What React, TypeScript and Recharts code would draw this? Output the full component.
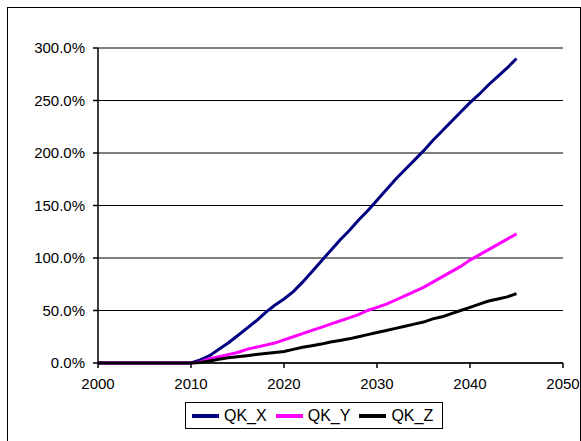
import React from 'react';
import { LineChart, Line, XAxis, YAxis, CartesianGrid, Legend } from 'recharts';

const years: number[] = [
  2000, 2001, 2002, 2003, 2004, 2005, 2006, 2007, 2008, 2009,
  2010, 2011, 2012, 2013, 2014, 2015, 2016, 2017, 2018, 2019,
  2020, 2021, 2022, 2023, 2024, 2025, 2026, 2027, 2028, 2029,
  2030, 2031, 2032, 2033, 2034, 2035, 2036, 2037, 2038, 2039,
  2040, 2041, 2042, 2043, 2044, 2045,
];

const qkX: number[] = [
  0, 0, 0, 0, 0, 0, 0, 0, 0, 0,
  0, 3, 7, 13, 19, 26, 33, 40, 48, 55,
  61, 68, 77, 87, 97, 107, 117, 126, 136, 145,
  155, 165, 175, 184, 193, 202, 212, 221, 230, 239,
  248, 256, 265, 273, 281, 290,
];

const qkY: number[] = [
  0, 0, 0, 0, 0, 0, 0, 0, 0, 0,
  0, 1, 4, 6, 8, 10, 13, 15, 17, 19,
  22, 25, 28, 31, 34, 37, 40, 43, 46, 50,
  53, 56, 60, 64, 68, 72, 77, 82, 87, 92,
  98, 103, 108, 113, 118, 123,
];

const qkZ: number[] = [
  0, 0, 0, 0, 0, 0, 0, 0, 0, 0,
  0, 0.5, 2, 3.5, 5, 6, 7, 8, 9, 10,
  11, 13, 15, 16.5, 18, 20, 21.5, 23, 25, 27,
  29, 31, 33, 35, 37, 39, 42, 44, 47, 50,
  53, 56, 59, 61, 63, 66,
];

const xTicks: number[] = [2000, 2010, 2020, 2030, 2040, 2050];
const yTicks: number[] = [0, 50, 100, 150, 200, 250, 300];

const data = years.map((year, i) => ({
  year,
  QK_X: qkX[i],
  QK_Y: qkY[i],
  QK_Z: qkZ[i],
}));

const FONT = 'Arial, "Liberation Sans", sans-serif';

const LegendContent = (props: any) => {
  const payload = props.payload || [];
  return (
    <div
      style={{
        boxSizing: 'border-box',
        border: '1px solid #000',
        height: 27,
        display: 'flex',
        alignItems: 'center',
        paddingLeft: 6,
        paddingRight: 4,
        fontFamily: FONT,
        fontSize: 16,
        color: '#000',
        background: '#fff',
        whiteSpace: 'nowrap',
      }}
    >
      {payload.map((entry: any, i: number) => (
        <div key={i} style={{ display: 'flex', alignItems: 'center', marginRight: i < payload.length - 1 ? 9 : 0 }}>
          <div style={{ width: 27, height: 4, background: entry.color, marginRight: 5 }} />
          <span>{entry.value}</span>
        </div>
      ))}
    </div>
  );
};

export default function App() {
  return (
    <div style={{ position: 'absolute', left: 0, top: 0, width: 581, height: 441, background: '#fff', overflow: 'hidden' }}>
      <div
        style={{
          position: 'absolute',
          left: 7,
          top: 7,
          width: 574,
          height: 460,
          boxSizing: 'border-box',
          border: '1px solid #000',
        }}
      />
      <div style={{ position: 'absolute', left: 0, top: 0 }}>
        <LineChart
          width={581}
          height={441}
          data={data}
          margin={{ top: 48, right: 18, bottom: 48, left: 8 }}
        >
          <CartesianGrid horizontal={true} vertical={false} stroke="#000" strokeWidth={1} />
          <XAxis
            dataKey="year"
            type="number"
            domain={[2000, 2050]}
            ticks={xTicks}
            interval={0}
            height={30}
            tickSize={5}
            tickMargin={10}
            axisLine={{ stroke: '#000', strokeWidth: 1.5 }}
            tickLine={{ stroke: '#000', strokeWidth: 1.5 }}
            tick={{ fill: '#000', fontSize: 15, fontFamily: FONT }}
          />
          <YAxis
            type="number"
            domain={[0, 300]}
            ticks={yTicks}
            interval={0}
            width={90}
            tickSize={5}
            tickMargin={8}
            tickFormatter={(v: number) => `${v.toFixed(1)}%`}
            axisLine={{ stroke: '#000', strokeWidth: 1.5 }}
            tickLine={{ stroke: '#000', strokeWidth: 1.5 }}
            tick={{ fill: '#000', fontSize: 15, fontFamily: FONT }}
          />
          <Legend
            layout="horizontal"
            verticalAlign="middle"
            align="center"
            content={<LegendContent />}
            wrapperStyle={{ position: 'absolute', left: 185, top: 402, width: 258, height: 27 }}
          />
          <Line type="linear" dataKey="QK_X" name="QK_X" stroke="#000080" strokeWidth={3} dot={false} isAnimationActive={false} />
          <Line type="linear" dataKey="QK_Y" name="QK_Y" stroke="#FF00FF" strokeWidth={3} dot={false} isAnimationActive={false} />
          <Line type="linear" dataKey="QK_Z" name="QK_Z" stroke="#000000" strokeWidth={3} dot={false} isAnimationActive={false} />
        </LineChart>
      </div>
    </div>
  );
}
